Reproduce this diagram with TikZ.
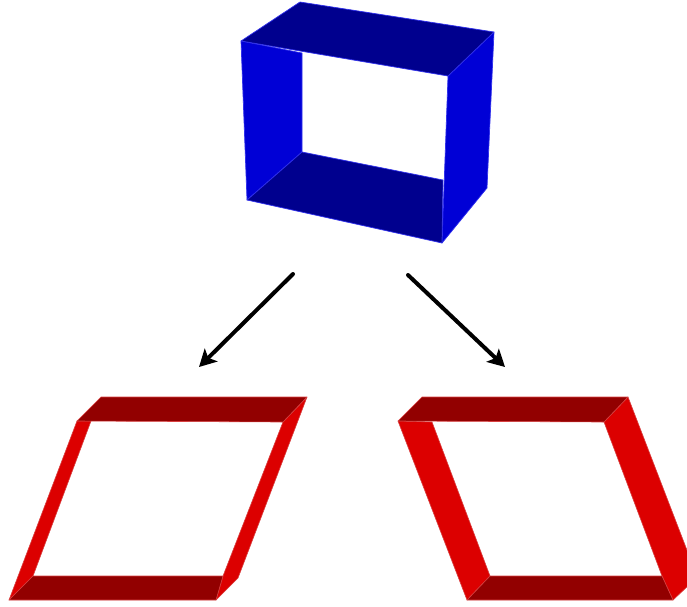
\documentclass[tikz,border=0pt]{standalone}
\usetikzlibrary{arrows.meta}
\definecolor{bluewall}{HTML}{0000D6}
\definecolor{bluedark}{HTML}{00008E}
\definecolor{blueedge}{HTML}{3030EC}
\definecolor{redwall}{HTML}{DC0000}
\definecolor{reddark}{HTML}{920000}
\definecolor{rededge}{HTML}{D84040}
\tikzset{
  bwall/.style={fill=bluewall,draw=blueedge,line width=0.7pt,line join=round},
  bflat/.style={fill=bluedark,draw=blueedge,line width=0.7pt,line join=round},
  rwall/.style={fill=redwall,draw=rededge,line width=0.6pt,line join=round},
  rflat/.style={fill=reddark,draw=rededge,line width=0.6pt,line join=round},
  bigarrow/.style={draw=black,line width=4pt,line cap=round,-{Stealth[length=17pt,width=18pt,inset=4pt]}}
}
\begin{document}
\begin{tikzpicture}[x=1pt,y=-1pt]
\useasboundingbox (0,0) rectangle (687,606);
\clip (0,0) rectangle (687,606);
% blue box
\filldraw[bwall] (241,41) -- (302,53) -- (302,152) -- (247,200) -- cycle;
\filldraw[bwall] (448,76) -- (494,32) -- (487,188) -- (442,243) -- cycle;
\filldraw[bflat] (241,41) -- (300,2) -- (494,32) -- (448,76) -- cycle;
\filldraw[bflat] (247,200) -- (302,152) -- (443,180) -- (442,243) -- cycle;
% left red frame
\filldraw[rwall] (77,421) -- (91,421) -- (33,576) -- (9,600) -- cycle;
\filldraw[rwall] (283,422) -- (307,397) -- (238,578) -- (216,600) -- (223,576) -- cycle;
\filldraw[rflat] (77,421) -- (101,397) -- (307,397) -- (283,422) -- cycle;
\filldraw[rflat] (9,600) -- (33,576) -- (223,576) -- (216,600) -- cycle;
% right red frame
\filldraw[rwall] (398,421) -- (432,422) -- (490,576) -- (467,600) -- cycle;
\filldraw[rwall] (604,422) -- (628,397) -- (690,558) -- (690,584) -- (673,600) -- (662,576) -- cycle;
\filldraw[rflat] (398,421) -- (422,397) -- (628,397) -- (604,422) -- cycle;
\filldraw[rflat] (467,600) -- (490,576) -- (662,576) -- (673,600) -- cycle;
% arrows
\coordinate (la) at (293,274);
\coordinate (lb) at (199,367);
\coordinate (ra) at (408,275);
\coordinate (rb) at (505,367);
\draw[bigarrow] (la) -- (lb);
\draw[bigarrow] (ra) -- (rb);
\end{tikzpicture}
\end{document}
